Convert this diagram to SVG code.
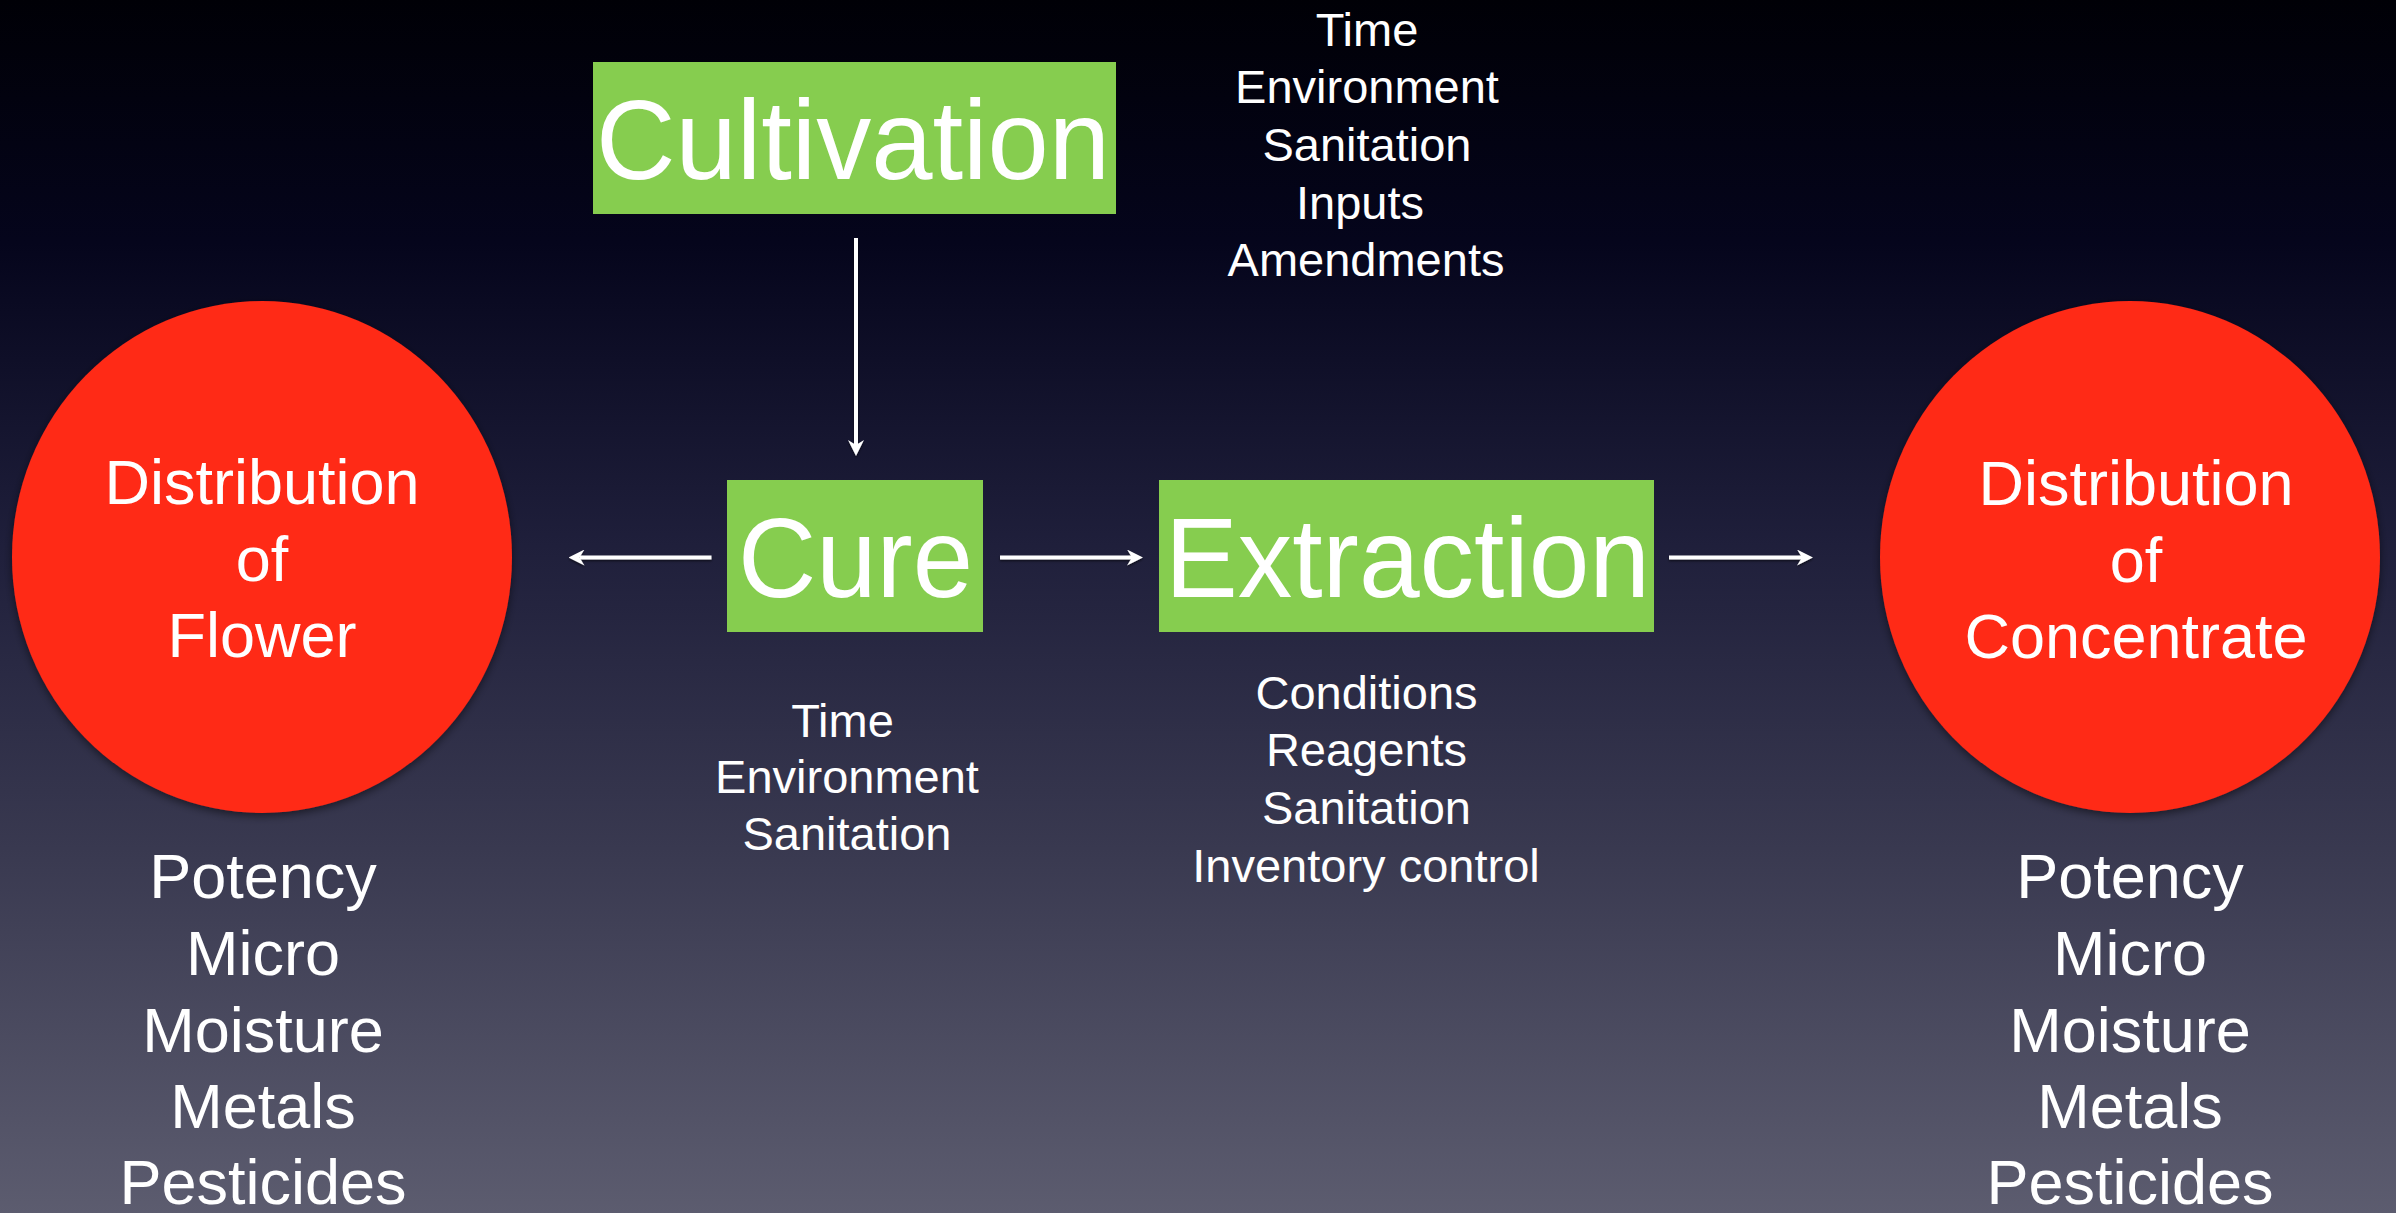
<svg xmlns="http://www.w3.org/2000/svg" width="2396" height="1213" viewBox="0 0 2396 1213">
  <defs>
    <linearGradient id="bg" x1="0" y1="0" x2="0" y2="1">
      <stop offset="0" stop-color="#000006"/>
      <stop offset="0.2" stop-color="#05051c"/>
      <stop offset="0.45" stop-color="#1f1f3b"/>
      <stop offset="0.7" stop-color="#393950"/>
      <stop offset="1" stop-color="#5c5c6f"/>
    </linearGradient>
    <filter id="shadow" x="-10%" y="-10%" width="120%" height="120%">
      <feDropShadow dx="0" dy="3" stdDeviation="4" flood-color="#000000" flood-opacity="0.5"/>
    </filter>
    <filter id="lshadow" filterUnits="userSpaceOnUse" x="0" y="0" width="2396" height="1213">
      <feDropShadow dx="0" dy="1.5" stdDeviation="0.8" flood-color="#000000" flood-opacity="0.6"/>
    </filter>
    <marker id="arrow" markerUnits="userSpaceOnUse" viewBox="0 0 16 16" markerWidth="16" markerHeight="16" refX="5" refY="8" orient="auto">
      <path d="M0,0 L16,8 L0,16 L5,8 Z" fill="#ffffff"/>
    </marker>
  </defs>
  <style>
    .box { fill: #86cd4f; }
    .disc { fill: #ff2915; filter: url(#shadow); }
    text { font-family: "Liberation Sans", Arial, Helvetica, sans-serif; fill: #ffffff; text-anchor: middle; }
    .big { font-size: 114px; }
    .circ { font-size: 63px; }
    .small { font-size: 47px; }
    .conn { stroke: #ffffff; stroke-width: 4; fill: none; marker-end: url(#arrow); }
  </style>

  <rect x="0" y="0" width="2396" height="1213" fill="url(#bg)"/>

  <g id="connectors" filter="url(#lshadow)">
    <line class="conn" x1="856" y1="238" x2="856" y2="445"/>
    <line class="conn" x1="711.5" y1="557.5" x2="579.5" y2="557.5"/>
    <line class="conn" x1="1000" y1="557.5" x2="1132" y2="557.5"/>
    <line class="conn" x1="1669" y1="557.5" x2="1802" y2="557.5"/>
  </g>

  <g id="cultivation">
    <rect class="box" x="593" y="62" width="523" height="152"/>
    <text class="big" x="853" y="179" textLength="514" lengthAdjust="spacingAndGlyphs">Cultivation</text>
  </g>

  <g id="cultivation-notes">
    <text class="small" x="1367" y="45.5">Time</text>
    <text class="small" x="1367" y="103">Environment</text>
    <text class="small" x="1367" y="160.5">Sanitation</text>
    <text class="small" x="1360" y="218.5">Inputs</text>
    <text class="small" x="1366" y="276">Amendments</text>
  </g>

  <g id="cure">
    <rect class="box" x="727" y="480" width="256" height="152"/>
    <text class="big" x="855.5" y="597" textLength="235" lengthAdjust="spacingAndGlyphs">Cure</text>
  </g>

  <g id="cure-notes">
    <text class="small" x="842.5" y="736.5">Time</text>
    <text class="small" x="847" y="793">Environment</text>
    <text class="small" x="847" y="849.5">Sanitation</text>
  </g>

  <g id="extraction">
    <rect class="box" x="1159" y="480" width="495" height="152"/>
    <text class="big" x="1407.5" y="597" textLength="485" lengthAdjust="spacingAndGlyphs">Extraction</text>
  </g>

  <g id="extraction-notes">
    <text class="small" x="1366.5" y="708.5">Conditions</text>
    <text class="small" x="1366.5" y="766">Reagents</text>
    <text class="small" x="1366.5" y="824">Sanitation</text>
    <text class="small" x="1366" y="881.5">Inventory control</text>
  </g>

  <g id="distribution-flower">
    <ellipse class="disc" cx="262" cy="557" rx="250" ry="256"/>
    <text class="circ" x="262" y="504">Distribution</text>
    <text class="circ" x="262" y="581">of</text>
    <text class="circ" x="262" y="657">Flower</text>
  </g>

  <g id="flower-tests">
    <text class="circ" x="263" y="898">Potency</text>
    <text class="circ" x="263" y="975">Micro</text>
    <text class="circ" x="263" y="1051.5">Moisture</text>
    <text class="circ" x="263" y="1127.5">Metals</text>
    <text class="circ" x="263" y="1204">Pesticides</text>
  </g>

  <g id="distribution-concentrate">
    <ellipse class="disc" cx="2130" cy="557" rx="250" ry="256"/>
    <text class="circ" x="2136" y="505">Distribution</text>
    <text class="circ" x="2136" y="582">of</text>
    <text class="circ" x="2136" y="658">Concentrate</text>
  </g>

  <g id="concentrate-tests">
    <text class="circ" x="2130" y="898">Potency</text>
    <text class="circ" x="2130" y="975">Micro</text>
    <text class="circ" x="2130" y="1051.5">Moisture</text>
    <text class="circ" x="2130" y="1127.5">Metals</text>
    <text class="circ" x="2130" y="1204">Pesticides</text>
  </g>
</svg>
